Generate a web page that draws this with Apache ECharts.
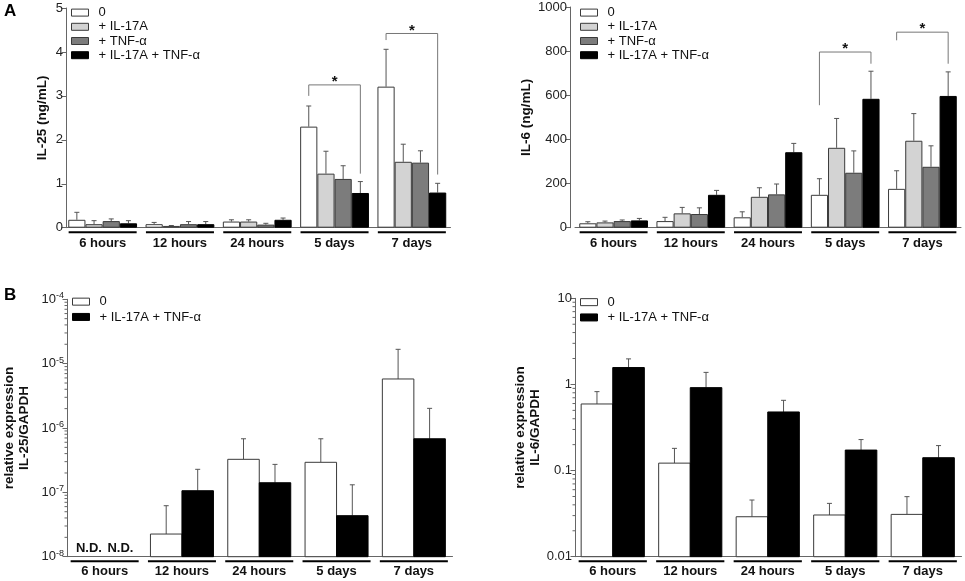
<!DOCTYPE html>
<html>
<head>
<meta charset="utf-8">
<script src="https://cdn.jsdelivr.net/npm/echarts@6/dist/echarts.min.js"></script>
<style>
  html, body { margin: 0; padding: 0; background: #fff; }
  #chart { width: 965px; height: 581px; }
</style>
</head>
<body>
<div id="chart"></div>
<script>
// categories and group names
var categories = ['6 hours', '12 hours', '24 hours', '5 days', '7 days'];
var groupNames = ['0', '+ IL-17A', '+ TNF-\u03b1', '+ IL-17A + TNF-\u03b1'];
var groupColors = ['#ffffff', '#d3d3d3', '#7c7c7c', '#000000'];

// panel A left: IL-25 (ng/mL), mean and top of error bar
var il25Mean = [
    [0.18, 0.08, 0.14, 2.30, 3.21],
    [0.08, 0.04, 0.14, 1.23, 1.50],
    [0.15, 0.08, 0.07, 1.11, 1.48],
    [0.10, 0.08, 0.18, 0.79, 0.80]
];
var il25Err = [
    [0.35, 0.12, 0.18, 2.77, 4.06],
    [0.16, 0.05, 0.18, 1.74, 1.90],
    [0.20, 0.14, 0.10, 1.41, 1.75],
    [0.16, 0.14, 0.22, 1.05, 1.01]
];
// significance brackets: [category, bracket y, left leg end, right leg end]
var il25Sig = [[3, 3.25, 3.0, 1.23], [4, 4.42, 4.27, 1.21]];

// panel A right: IL-6 (ng/mL)
var il6Mean = [
    [20, 30, 47, 149, 176],
    [24, 65, 140, 362, 394],
    [30, 62, 151, 249, 276],
    [33, 149, 342, 584, 597]
];
var il6Err = [
    [27, 47, 72, 222, 258],
    [30, 92, 181, 495, 517],
    [35, 90, 198, 348, 371],
    [42, 169, 382, 709, 706]
];
var il6Sig = [[3, 796, 555, 743], [4, 886, 849, 743]];

// panel B: relative expression, null = N.D.
var bNames = ['0', '+ IL-17A + TNF-\u03b1'];
var bColors = ['#ffffff', '#000000'];
var il25RelMean = [
    [null, 2.25e-8, 3.26e-7, 2.93e-7, 5.78e-6],
    [null, 1.06e-7, 1.41e-7, 4.34e-8, 6.8e-7]
];
var il25RelErr = [
    [null, 6.2e-8, 6.8e-7, 6.8e-7, 1.67e-5],
    [null, 2.28e-7, 2.72e-7, 1.31e-7, 2.02e-6]
];
var il6RelMean = [
    [0.593, 0.122, 0.0291, 0.0305, 0.031],
    [1.57, 0.918, 0.479, 0.173, 0.141]
];
var il6RelErr = [
    [0.825, 0.181, 0.0455, 0.0416, 0.0498],
    [1.98, 1.38, 0.654, 0.229, 0.195]
];

var yMinA = [0, 0];
var yMinB = [1e-8, 0.01];
var yMaxB = [1e-4, 10];

// minor log ticks (2..9 x 10^n) for the B axes
function logMinorTicks(min, max) {
    var out = [];
    for (var d = Math.round(Math.log10(min)); d < Math.round(Math.log10(max)); d++) {
        for (var m = 2; m <= 9; m++) { out.push(m * Math.pow(10, d)); }
    }
    return out;
}
var minorTicksB = [logMinorTicks(yMinB[0], yMaxB[0]), logMinorTicks(yMinB[1], yMaxB[1])];

var FONT = 'Liberation Sans, Arial, sans-serif';
var BORDER = '#3a3a3a';

window.onload = function () {
    var myChart = echarts.init(document.getElementById('chart'));

    var grids = [
        { left: 64, top: 8, width: 386.5, height: 219.7 },
        { left: 575, top: 7, width: 386, height: 220.7 },
        { left: 66, top: 299.3, width: 386.5, height: 257.4 },
        { left: 574, top: 298.3, width: 387.5, height: 258.4 }
    ];
    var yOffsets = [-2, 5, -1, -1];

    function xAxis(gi, margin) {
        return {
            type: 'category', gridIndex: gi, data: categories,
            axisLine: { lineStyle: { color: '#666', width: 1 } },
            axisTick: { show: false },
            axisLabel: { margin: margin, fontFamily: FONT, fontWeight: 'bold', fontSize: 13, color: '#111' }
        };
    }

    var supRich = {
        b: { fontFamily: FONT, fontSize: 13, color: '#222', lineHeight: 16 },
        s: { fontFamily: FONT, fontSize: 9, color: '#222', lineHeight: 16, verticalAlign: 'top', padding: [0, 0, 6, 0] }
    };

    function yAxis(gi, opts) {
        var base = {
            gridIndex: gi,
            offset: yOffsets[gi],
            nameLocation: 'middle',
            nameRotate: 90,
            nameTextStyle: { fontFamily: FONT, fontWeight: 'bold', fontSize: 13.5, color: '#111', lineHeight: 15 },
            axisLine: { show: true, lineStyle: { color: '#666', width: 1 } },
            axisTick: { show: true, inside: false, length: 4.5, lineStyle: { color: '#666' } },
            axisLabel: { margin: 3, fontFamily: FONT, fontSize: 13, color: '#222', formatter: function (v) { return String(v); } },
            splitLine: { show: false }
        };
        return Object.assign(base, opts);
    }

    var xAxes = [xAxis(0, 9), xAxis(1, 9), xAxis(2, 8), xAxis(3, 8)];
    var yAxes = [
        yAxis(0, { type: 'value', min: 0, max: 5, interval: 1, name: 'IL-25 (ng/mL)', nameGap: 16 }),
        yAxis(1, { type: 'value', min: 0, max: 1000, interval: 200, name: 'IL-6 (ng/mL)', nameGap: 34 }),
        yAxis(2, {
            type: 'log', logBase: 10, min: yMinB[0], max: yMaxB[0], name: 'relative expression\nIL-25/GAPDH', nameGap: 35,
            minorTick: { show: false },
            axisLabel: {
                margin: 3,
                formatter: function (v) { return '{b|10}{s|' + Math.round(Math.log10(v)) + '}'; },
                rich: supRich
            }
        }),
        yAxis(3, {
            type: 'log', logBase: 10, min: yMinB[1], max: yMaxB[1], name: 'relative expression\nIL-6/GAPDH', nameGap: 32,
            minorTick: { show: false },
            axisLabel: {
                margin: 3, fontFamily: FONT, fontSize: 13, color: '#222',
                formatter: function (v) { return String(+v.toPrecision(3)); }
            }
        })
    ];

    var series = [];

    function errorSeries(gi, k, n, gapFrac, row, errs) {
        return {
            type: 'custom', xAxisIndex: gi, yAxisIndex: gi, silent: true, z: 2,
            data: row.map(function (v, i) { return v === null ? [i, '-', '-'] : [i, v, errs[k][i]]; }),
            renderItem: function (params, api) {
                var idx = api.value(0);
                if (isNaN(api.value(1))) { return null; }
                var p0 = api.coord([idx, api.value(1)]);
                var p1 = api.coord([idx, api.value(2)]);
                var band = api.size([1, 0])[0];
                var bw = band * gapFrac / n;
                var x = p0[0] + (k - (n - 1) / 2) * bw;
                var st = { stroke: '#555', lineWidth: 1 };
                return {
                    type: 'group', children: [
                        { type: 'line', shape: { x1: x, y1: p0[1], x2: x, y2: p1[1] }, style: st },
                        { type: 'line', shape: { x1: x - 2.5, y1: p1[1], x2: x + 2.5, y2: p1[1] }, style: st }
                    ]
                };
            }
        };
    }

    function underlineSeries(gi, yMin) {
        return {
            type: 'custom', xAxisIndex: gi, yAxisIndex: gi, silent: true, z: 4,
            data: categories.map(function (c, i) { return [i, yMin]; }),
            renderItem: function (params, api) {
                var p = api.coord([api.value(0), api.value(1)]);
                var band = api.size([1, 0])[0];
                return {
                    type: 'line',
                    shape: { x1: p[0] - band * 0.44, y1: p[1] + 4.5, x2: p[0] + band * 0.44, y2: p[1] + 4.5 },
                    style: { stroke: '#000', lineWidth: 2 }
                };
            }
        };
    }

    // linear panels: library bars
    function addPanel(gi, names, colors, means, errs, gapFrac, yMin) {
        var n = names.length;
        means.forEach(function (row, k) {
            series.push({
                name: names[k], type: 'bar', xAxisIndex: gi, yAxisIndex: gi,
                barGap: 0, barCategoryGap: Math.round((1 - gapFrac) * 1000) / 10 + '%',
                itemStyle: { color: colors[k], borderColor: colors[k] === '#000000' ? '#000' : BORDER, borderWidth: 1 },
                data: row,
                z: 3
            });
            series.push(errorSeries(gi, k, n, gapFrac, row, errs));
        });
        series.push(underlineSeries(gi, yMin));
    }

    // log panels: bars drawn from the axis minimum
    function addLogPanel(gi, names, colors, means, errs, gapFrac, yMin, minorTicks) {
        var n = names.length;
        means.forEach(function (row, k) {
            series.push({
                name: names[k], type: 'custom', xAxisIndex: gi, yAxisIndex: gi, z: 3,
                itemStyle: { color: colors[k], borderColor: colors[k] === '#000000' ? '#000' : BORDER, borderWidth: 1 },
                data: row.map(function (v, i) { return [i, v === null ? '-' : v]; }),
                renderItem: function (params, api) {
                    var idx = api.value(0);
                    var band = api.size([1, 0])[0];
                    var bw = band * gapFrac / n;
                    var base = api.coord([idx, yMin]);
                    var cx = base[0] + (k - (n - 1) / 2) * bw;
                    if (isNaN(api.value(1))) {
                        return {
                            type: 'text', x: cx, y: base[1] - 2,
                            style: { text: 'N.D.', fontFamily: FONT, fontWeight: 'bold', fontSize: 13, fill: '#111', align: 'center', verticalAlign: 'bottom' }
                        };
                    }
                    var top = api.coord([idx, api.value(1)]);
                    return {
                        type: 'rect',
                        shape: { x: cx - bw / 2, y: top[1], width: bw, height: base[1] - top[1] },
                        style: api.style()
                    };
                }
            });
            series.push(errorSeries(gi, k, n, gapFrac, row, errs));
        });
        series.push(underlineSeries(gi, yMin));
        // minor ticks of the log axis, drawn at the left edge of the first band
        series.push({
            type: 'custom', xAxisIndex: gi, yAxisIndex: gi, silent: true, z: 4,
            data: minorTicks.map(function (v) { return [0, v]; }),
            renderItem: function (params, api) {
                var p = api.coord([api.value(0), api.value(1)]);
                var band = api.size([1, 0])[0];
                var x = p[0] - band / 2 - yOffsets[gi];
                return {
                    type: 'line',
                    shape: { x1: x - 2.5, y1: p[1], x2: x, y2: p[1] },
                    style: { stroke: '#666', lineWidth: 1 }
                };
            }
        });
    }

    function addSig(gi, sig, n, gapFrac) {
        series.push({
            type: 'custom', xAxisIndex: gi, yAxisIndex: gi, silent: true, z: 5,
            data: sig,
            renderItem: function (params, api) {
                var idx = api.value(0);
                var top = api.coord([idx, api.value(1)]);
                var left = api.coord([idx, api.value(2)]);
                var right = api.coord([idx, api.value(3)]);
                var band = api.size([1, 0])[0];
                var bw = band * gapFrac / n;
                var xl = top[0] - (n - 1) / 2 * bw;
                var xr = top[0] + (n - 1) / 2 * bw;
                return {
                    type: 'group', children: [
                        {
                            type: 'polyline',
                            shape: { points: [[xl, left[1]], [xl, top[1]], [xr, top[1]], [xr, right[1]]] },
                            style: { stroke: '#777', lineWidth: 1, fill: null }
                        },
                        {
                            type: 'text', x: (xl + xr) / 2, y: top[1] - 3,
                            style: { text: '*', fontFamily: FONT, fontWeight: 'bold', fontSize: 15, fill: '#111', align: 'center', verticalAlign: 'middle' }
                        }
                    ]
                };
            }
        });
    }

    addPanel(0, groupNames, groupColors, il25Mean, il25Err, 0.89, yMinA[0]);
    addSig(0, il25Sig, 4, 0.89);
    addPanel(1, groupNames, groupColors, il6Mean, il6Err, 0.89, yMinA[1]);
    addSig(1, il6Sig, 4, 0.89);
    addLogPanel(2, bNames, bColors, il25RelMean, il25RelErr, 0.815, yMinB[0], minorTicksB[0]);
    addLogPanel(3, bNames, bColors, il6RelMean, il6RelErr, 0.815, yMinB[1], minorTicksB[1]);

    function legend(left, top, names, pitch) {
        return {
            orient: 'vertical', left: left, top: top, data: names,
            itemWidth: 17, itemHeight: 7, itemGap: 0, padding: 0,
            selectedMode: false, icon: 'rect',
            itemStyle: { borderWidth: 1 },
            textStyle: { fontFamily: FONT, fontSize: 13, color: '#111', lineHeight: pitch, padding: [0, 0, 0, 5] }
        };
    }

    option = {
        animation: false,
        backgroundColor: '#fff',
        grid: grids,
        xAxis: xAxes,
        yAxis: yAxes,
        legend: [
            legend(71, 5.5, groupNames, 14.2),
            legend(580, 5.5, groupNames, 14.2),
            legend(72, 294, bNames, 15.3),
            legend(580, 294.5, bNames, 15.3)
        ],
        graphic: [
            { type: 'text', left: 4, top: 3, style: { text: 'A', fontFamily: FONT, fontWeight: 'bold', fontSize: 17, fill: '#000' } },
            { type: 'text', left: 4, top: 287, style: { text: 'B', fontFamily: FONT, fontWeight: 'bold', fontSize: 17, fill: '#000' } }
        ],
        series: series
    };
    myChart.setOption(option, true);
};
</script>
</body>
</html>
